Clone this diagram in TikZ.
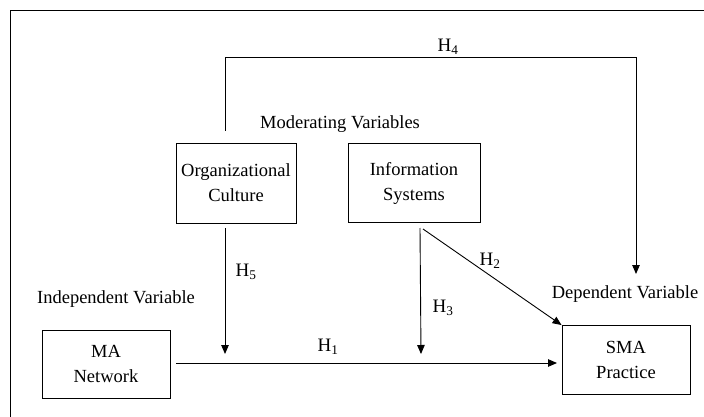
\documentclass[tikz,border=0pt]{standalone}
\usepackage{fontspec}
\setmainfont{Liberation Serif}
\usetikzlibrary{arrows.meta}
\begin{document}
\begin{tikzpicture}[x=1pt,y=-1pt,
  every node/.style={font=\fontsize{18.5}{25}\selectfont, inner sep=0pt},
  varbox/.style={draw, line width=0.9pt, align=center},
  lbl/.style={font=\fontsize{18.5}{22}\selectfont},
  hyp/.style={font=\fontsize{19}{22}\selectfont},
  conn/.style={line width=0.9pt},
  arr/.style={conn, -{Triangle[length=9pt,width=7.5pt]}}]
\useasboundingbox[fill=white] (0,0) rectangle (704,417);
% outer frame (only top and left edges visible)
\draw[line width=1pt] (10,430) -- (10,10.5) -- (720,10.5);

% boxes
\node[varbox, minimum width=120pt, minimum height=80pt] (org) at (236,183) {Organizational\\Culture};
\node[varbox, minimum width=132pt, minimum height=79pt] (info) at (414,183) {Information\\Systems};
\node[varbox, minimum width=128pt, minimum height=68pt] (ma) at (106,364) {MA\\Network};
\node[varbox, minimum width=128pt, minimum height=69pt] (sma) at (626,360) {SMA\\Practice};

% texts
\node[lbl] (mod) at (340,124) {Moderating Variables};
\node[lbl] (ind) at (116,299) {Independent Variable};
\node[lbl] (dep) at (625,294) {Dependent Variable};

% connector end points
\coordinate (h4s) at (225,131);
\coordinate (h4a) at (225,57);
\coordinate (h4b) at (636,57);
\coordinate (h4e) at (636,274);
\coordinate (h5s) at (225,228);
\coordinate (h5e) at (225,354);
\coordinate (h3s) at (420,228);
\coordinate (h3e) at (421,354);
\coordinate (h2s) at (423,229);
\coordinate (h1s) at (176,363);
\coordinate (h1e) at (557,363);

% connectors
\draw[arr] (h4s) -- (h4a) -- (h4b) -- (h4e);
\draw[arr] (h5s) -- (h5e);
\draw[arr] (h3s) -- (h3e);
\draw[arr] (h2s) -- (sma.north west);
\draw[arr] (h1s) -- (h1e);

% hypothesis labels
\node[hyp] (l4) at (448,47) {H\textsubscript{4}};
\node[hyp] (l5) at (246,272) {H\textsubscript{5}};
\node[hyp] (l3) at (443,308) {H\textsubscript{3}};
\node[hyp] (l2) at (490,261) {H\textsubscript{2}};
\node[hyp] (l1) at (328,347) {H\textsubscript{1}};
\end{tikzpicture}
\end{document}
